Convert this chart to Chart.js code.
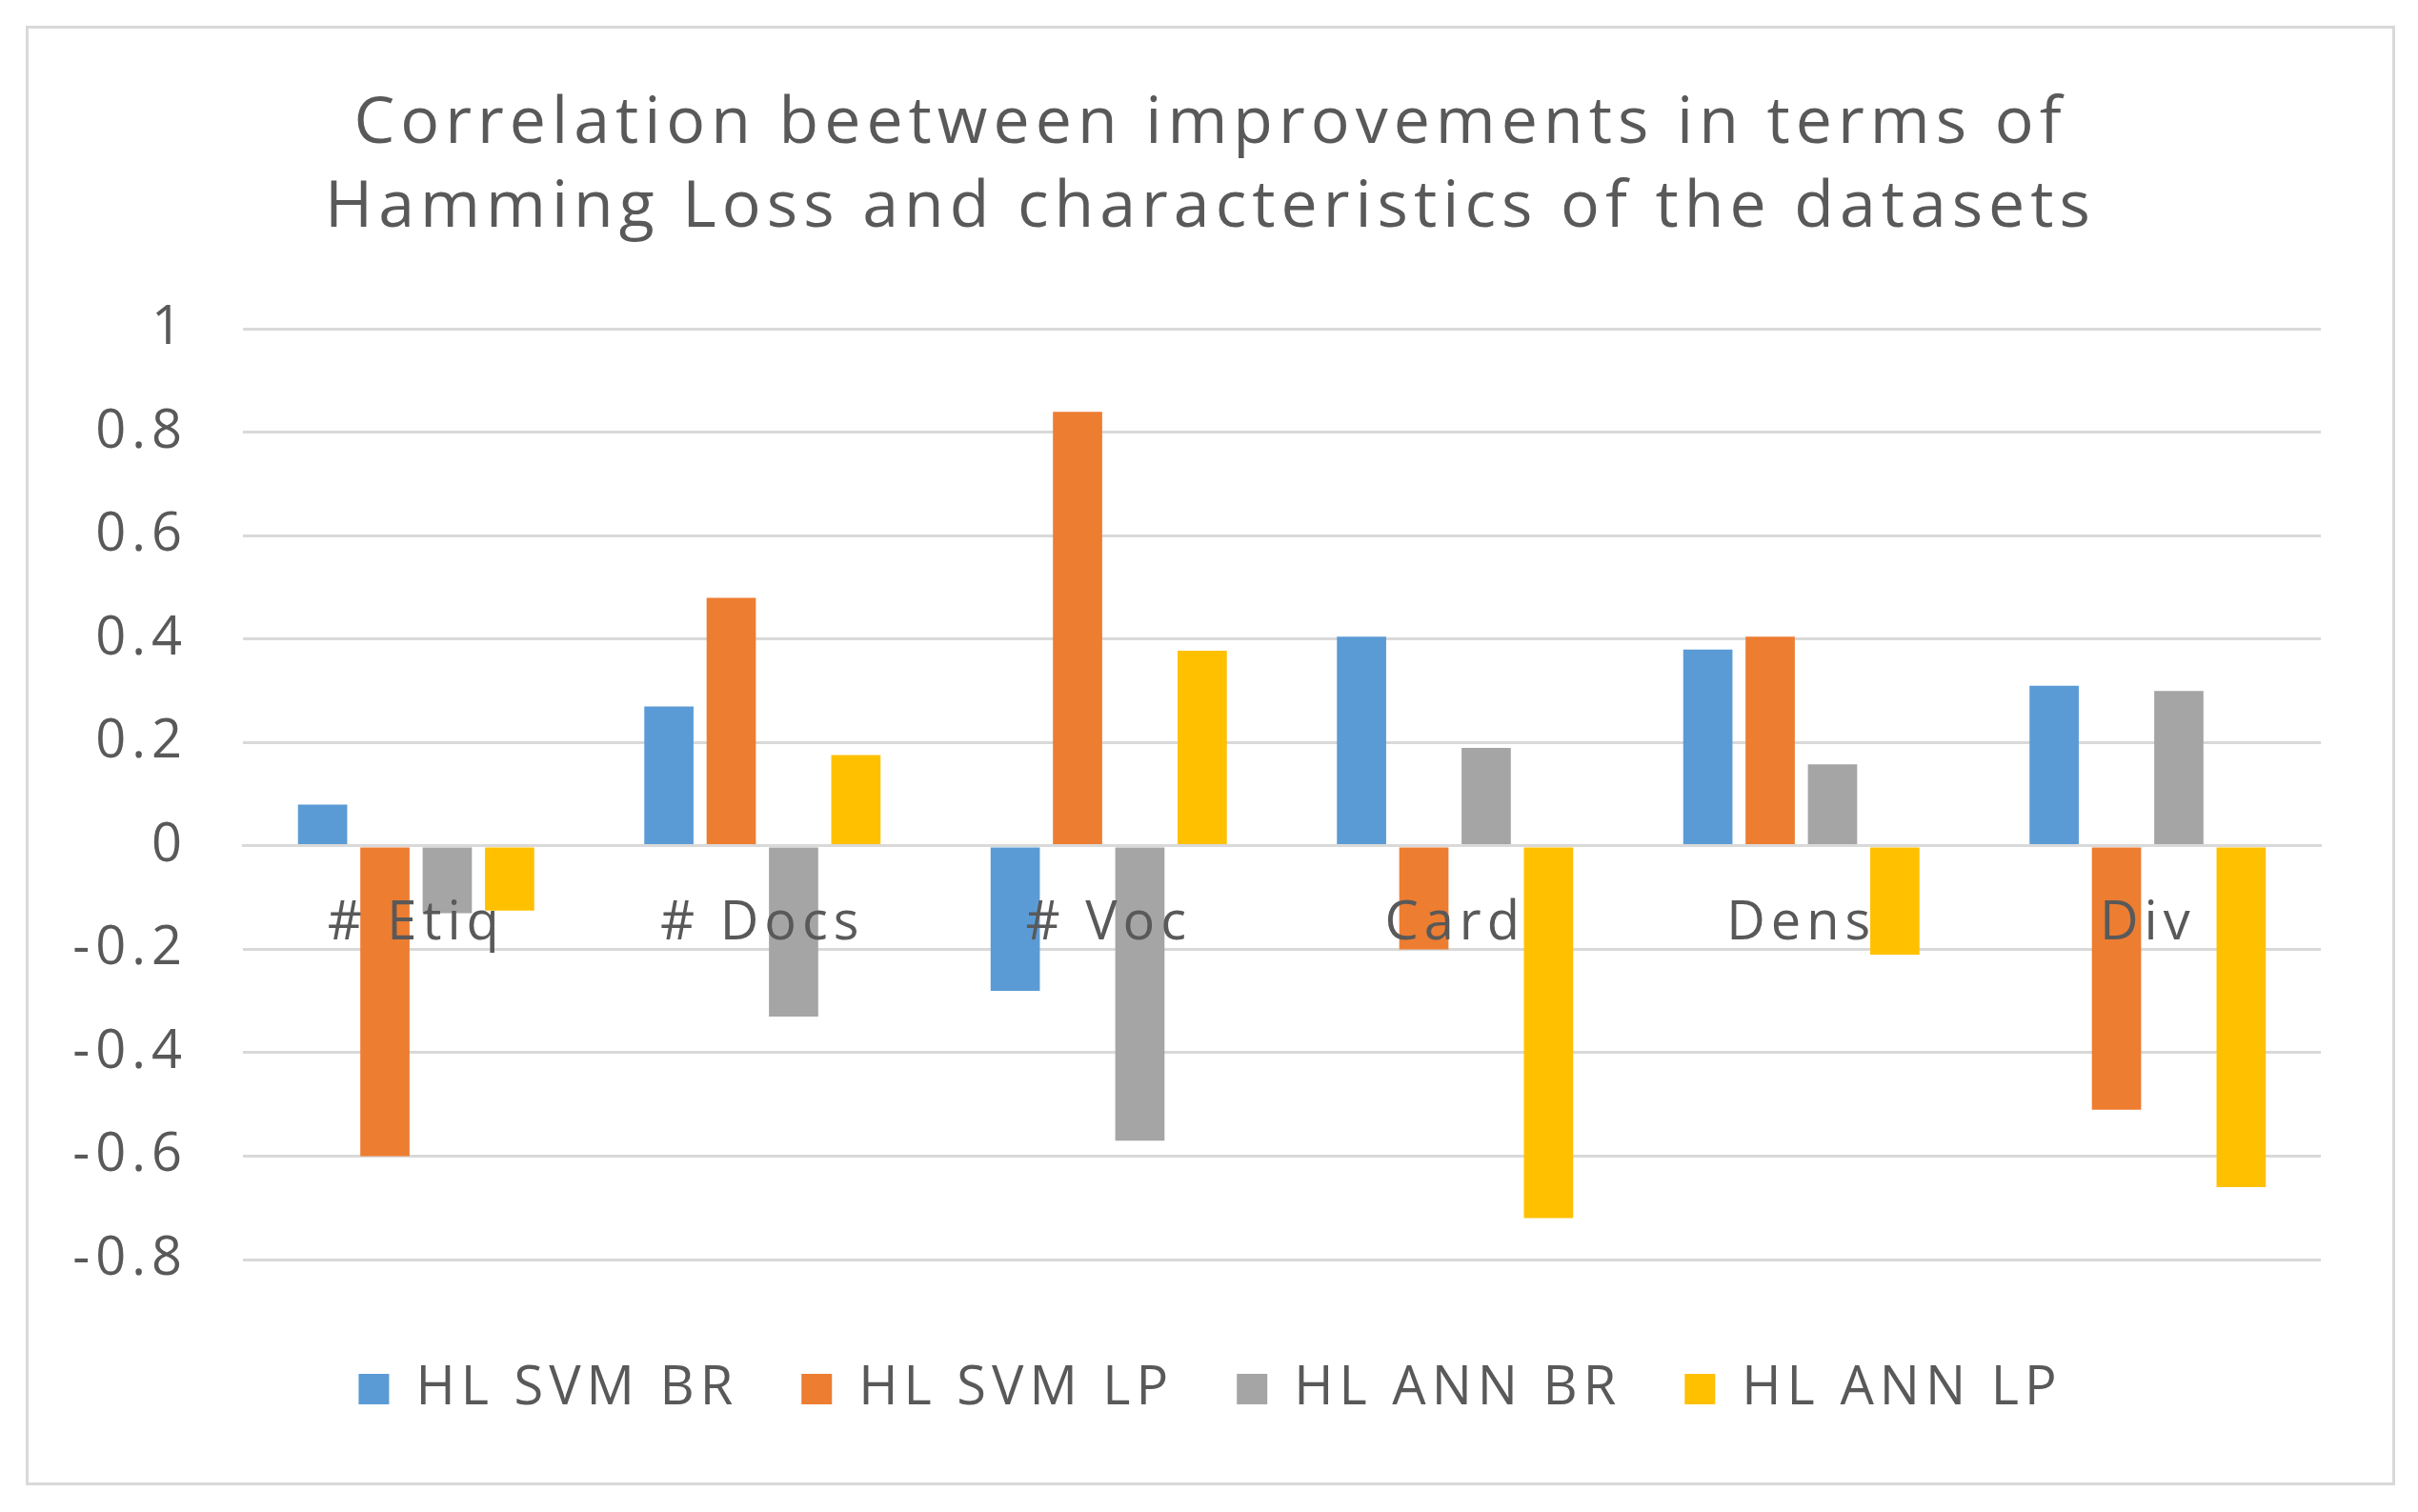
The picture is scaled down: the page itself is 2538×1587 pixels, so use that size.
<!DOCTYPE html>
<html>
<head>
<meta charset="utf-8">
<script src="https://cdn.jsdelivr.net/npm/chart.js@4.4.1/dist/chart.umd.min.js"></script>
<style>
    html, body { margin: 0; padding: 0; background: #fff; }
    #wrap {
        position: absolute;
        left: 27px; top: 27px;
        width: 2481px; height: 1526px;
        border: 3px solid #d9d9d9;
        background: #fff;
    }
</style>
</head>
<body>
<div id="wrap"><canvas id="chart"></canvas></div>
<script>
    var categories = ['# Etiq', '# Docs', '# Voc', 'Card', 'Dens', 'Div'];
    var svmBr = [0.08, 0.27, -0.28, 0.405, 0.38, 0.31];
    var svmLp = [-0.60, 0.48, 0.84, -0.20, 0.405, -0.51];
    var annBr = [-0.13, -0.33, -0.57, 0.19, 0.158, 0.30];
    var annLp = [-0.125, 0.176, 0.378, -0.72, -0.21, -0.66];
    var seriesNames = ['HL SVM BR', 'HL SVM LP', 'HL ANN BR', 'HL ANN LP'];
    var seriesColors = ['#5B9BD5', '#ED7D31', '#A5A5A5', '#FFC000'];

    var fontFamily = "'Open Sans', sans-serif";
    var textColor = '#595959';
    var gridColor = '#d9d9d9';

    // excel-ish wide text: letter spacing has to be set again after every canvas reset
    var spacing = {
        id: 'spacing',
        beforeUpdate: function (chart) { chart.ctx.letterSpacing = '6px'; },
        beforeLayout: function (chart) { chart.ctx.letterSpacing = '6px'; },
        beforeDraw: function (chart) { chart.ctx.letterSpacing = '6px'; }
    };

    var datasets = [svmBr, svmLp, annBr, annLp].map(function (values, i) {
        return {
            label: seriesNames[i],
            data: values,
            backgroundColor: seriesColors[i],
            borderWidth: 0,
            categoryPercentage: 0.72,
            barPercentage: 0.79
        };
    });

    var ctx = document.getElementById('chart').getContext('2d');
    new Chart(ctx, {
        type: 'bar',
        data: { labels: categories, datasets: datasets },
        plugins: [spacing],
        options: {
            responsive: true,
            maintainAspectRatio: false,
            animation: false,
            layout: { padding: { left: 75, right: 75, top: 47, bottom: 60 } },
            plugins: {
                title: {
                    display: true,
                    text: ['Correlation beetween improvements in terms of',
                           'Hamming Loss and characteristics of the datasets'],
                    color: textColor,
                    font: { family: fontFamily, size: 68, weight: 'normal', lineHeight: 1.29 },
                    padding: { top: 10, bottom: 83 }
                },
                legend: {
                    position: 'bottom',
                    title: {
                        display: true,
                        text: '',
                        font: { size: 1, lineHeight: 1 },
                        padding: { top: 41, bottom: 0 }
                    },
                    labels: {
                        color: textColor,
                        font: { family: fontFamily, size: 56 },
                        boxWidth: 32,
                        boxHeight: 32,
                        padding: 66
                    }
                },
                tooltip: { enabled: false }
            },
            scales: {
                x: {
                    position: { y: 0 },
                    grid: { display: false },
                    border: { display: true, color: gridColor, width: 3, z: 1 },
                    ticks: {
                        z: 1,
                        color: textColor,
                        font: { family: fontFamily, size: 56 },
                        padding: 40
                    }
                },
                y: {
                    min: -0.8,
                    max: 1,
                    grid: { color: gridColor, lineWidth: 3, drawTicks: false },
                    border: { display: false },
                    afterFit: function (scale) {
                        scale.width = 150;
                        // labels stick out past the narrowed box, don't clip them
                        scale._computeLabelArea = function () { return undefined; };
                    },
                    ticks: {
                        stepSize: 0.2,
                        color: textColor,
                        font: { family: fontFamily, size: 56 },
                        padding: 58,
                        callback: function (v) {
                            return String(Math.round(v * 10) / 10);
                        }
                    }
                }
            }
        }
    });
</script>
</body>
</html>
